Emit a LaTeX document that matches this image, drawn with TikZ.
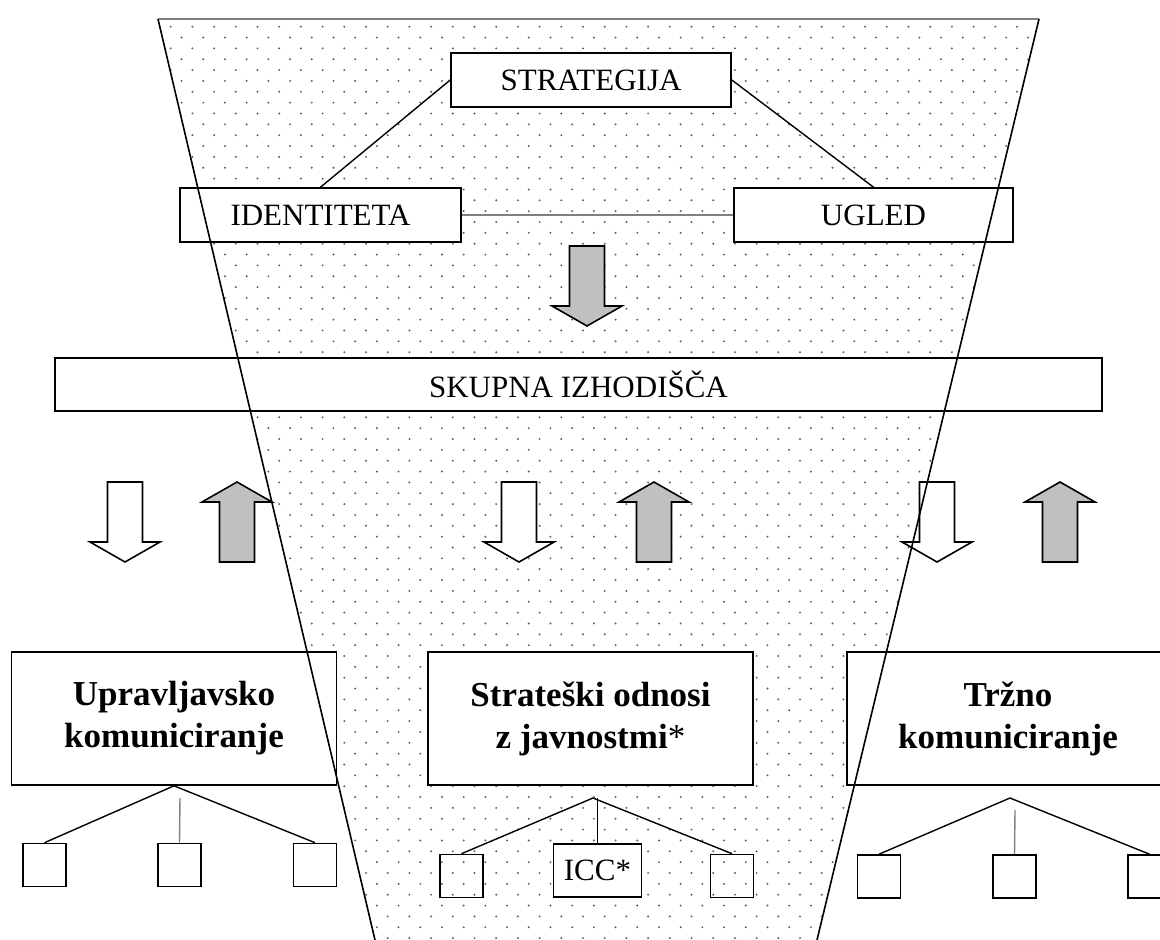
\documentclass[tikz,border=0pt]{standalone}
\usepackage{fontspec}
\setmainfont{Liberation Serif}
\usetikzlibrary{positioning}
\definecolor{arrowgray}{RGB}{192,192,192}
\definecolor{dotgray}{RGB}{95,95,95}
\tikzset{
  box/.style={draw, fill=white, line width=0.8pt, inner sep=0pt,
    font=\fontsize{15.5}{18}\selectfont},
  bigbox/.style={draw, fill=white, line width=0.8pt, inner sep=0pt, align=center,
    minimum width=162.5pt, minimum height=66.5pt,
    font=\fontsize{17.5}{21}\selectfont\bfseries},
  leaf/.style={draw, line width=0.8pt, inner sep=0pt,
    minimum width=21.5pt, minimum height=21.5pt},
  link/.style={line width=0.7pt},
  greylink/.style={line width=0.7pt, gray},
  side/.style={line width=0.8pt},
  whitedown/.pic={\draw[line width=0.8pt, fill=white]
    (-17.5,0) -- (17.5,0) -- (17.5,60) -- (35,60) -- (0,80) -- (-35,60) -- (-17.5,60) -- cycle;},
  greydown/.pic={\draw[line width=0.8pt, fill=arrowgray]
    (-17.5,0) -- (17.5,0) -- (17.5,60) -- (35,60) -- (0,80) -- (-35,60) -- (-17.5,60) -- cycle;},
  greyup/.pic={\draw[line width=0.8pt, fill=arrowgray]
    (0,0) -- (35,20) -- (17.5,20) -- (17.5,80) -- (-17.5,80) -- (-17.5,20) -- (-35,20) -- cycle;}
}

\begin{document}
\begin{tikzpicture}[x=0.5pt, y=-0.5pt]
    \useasboundingbox (0,0) rectangle (1160,940);
    % dotted funnel
    \coordinate (fTL) at (158,19);
    \coordinate (fTR) at (1039,19);
    \coordinate (fBR) at (817,940);
    \coordinate (fBL) at (375,940);
    \begin{scope}
      \clip (fTL) -- (fTR) -- (fBR) -- (fBL) -- cycle;
      \foreach \j in {0,...,84}{
        \pgfmathsetmacro\yy{26.7+10.85*\j}
        \pgfmathsetmacro\xs{mod(\j,2)*10.85+149}
        \foreach \i in {0,...,41}
          \fill[dotgray] (\xs+21.7*\i,\yy) circle[radius=0.55pt];
      }
    \end{scope}
    \draw[side, gray] (fTL) -- (fTR);

    % top level
    \node[box, minimum width=140pt, minimum height=27pt] (strat) at (591,80) {STRATEGIJA};
    \node[box, minimum width=140.5pt, minimum height=27pt] (ident) at (320.5,215) {IDENTITETA};
    \node[box, minimum width=139.5pt, minimum height=27pt] (ugled) at (873.5,215) {UGLED};
    \path (strat.west) edge[link] (ident.north);
    \path (strat.east) edge[link] (ugled.north);
    \path (ident.east) edge[greylink] (ugled.west);
    \pic at (587,246) {greydown};

    \node[box, minimum width=523.5pt, minimum height=26.5pt] (skup) at (578.5,384.5) {SKUPNA IZHODIŠČA};

    % arrows between levels
    \pic at (125,482) {whitedown};
    \pic at (237,482) {greyup};
    \pic at (519,482) {whitedown};
    \pic at (654,482) {greyup};
    \pic at (937,482) {whitedown};
    \pic at (1060,482) {greyup};

    % bottom level
    \node[bigbox] (upr) at (174,718.5) {Upravljavsko\\komuniciranje};
    \node[bigbox] (odn) at (590.5,718.5) {Strateški odnosi\\z javnostmi\textmd{*}};
    \node[bigbox, minimum width=161pt] (trz) at (1008,718.5) {Tržno\\komuniciranje};

    \node[leaf, fill=white] (upr1) at (44.5,865) {};
    \node[leaf, fill=white] (upr2) at (179.5,865) {};
    \node[leaf, fill=white] (upr3) at (315,865) {};
    \coordinate (uprMid) at (180,798);
    \path (upr.south) edge[link] (upr1.north);
    \path (upr.south) edge[link] (upr3.north);
    \path (uprMid) edge[greylink] (upr2.north);

    \node[leaf] (odn1) at (461.5,876) {};
    \node[box, minimum width=44pt, minimum height=26.5pt] (icc) at (597.5,870.5) {ICC*};
    \node[leaf] (odn3) at (732,876) {};
    \coordinate (odnTop) at (593,798);
    \coordinate (odnMid) at (597.5,798);
    \path (odnTop) edge[link] (odn1.north);
    \path (odnTop) edge[link] (odn3.north);
    \path (odnMid) edge[link] (icc.north);

    \node[leaf, fill=white] (trz1) at (879,876.5) {};
    \node[leaf, fill=white] (trz2) at (1014.5,876.5) {};
    \node[leaf, fill=white] (trz3) at (1149.5,876.5) {};
    \coordinate (trzTop) at (1010,798);
    \coordinate (trzMid) at (1015,810);
    \path (trzTop) edge[link] (trz1.north);
    \path (trzTop) edge[link] (trz3.north);
    \path (trzMid) edge[greylink] (trz2.north);

    % funnel sides on top
    \draw[side] (fTL) -- (fBL);
    \draw[side] (fTR) -- (fBR);
\end{tikzpicture}
\end{document}
